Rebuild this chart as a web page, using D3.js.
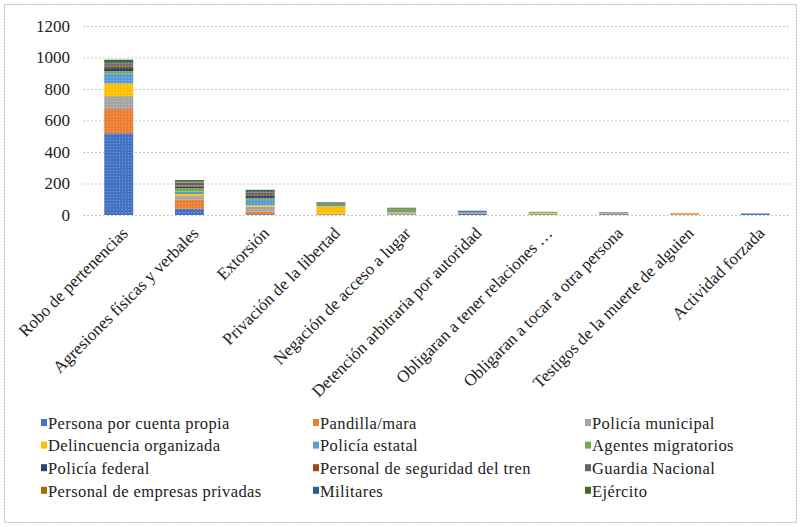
<!DOCTYPE html>
<html>
<head>
<meta charset="utf-8">
<script src="https://cdn.jsdelivr.net/npm/d3@7"></script>
</head>
<body style="margin:0">
<script>
var categorias = ["Robo de pertenencias", "Agresiones físicas y verbales", "Extorsión",
    "Privación de la libertad", "Negación de acceso a lugar", "Detención arbitraria por autoridad",
    "Obligaran a tener relaciones …", "Obligaran a tocar a otra persona",
    "Testigos de la muerte de alguien", "Actividad forzada"];

var series = ["Persona por cuenta propia", "Pandilla/mara", "Policía municipal",
    "Delincuencia organizada", "Policía estatal", "Agentes migratorios",
    "Policía federal", "Personal de seguridad del tren", "Guardia Nacional",
    "Personal de empresas privadas", "Militares", "Ejército"];

var persona      = [519, 40,  5,  3,  3, 8, 4, 5, 2, 7];
var pandilla     = [154, 58, 18,  5,  5, 2, 5, 4, 8, 0];
var municipal    = [82,  22, 30,  0,  5, 2, 2, 2, 1, 2];
var delincuencia = [80,  13,  8, 46,  2, 0, 2, 0, 3, 0];
var estatal      = [63,  15, 35,  3,  3, 3, 0, 3, 0, 3];
var migratorios  = [15,  22, 10, 10, 18, 2, 5, 3, 0, 0];
var federal      = [20,  10, 15,  5,  2, 6, 0, 2, 0, 0];
var tren         = [10,   8,  5,  0,  1, 0, 0, 0, 0, 0];
var guardia      = [15,  18, 15,  6,  4, 0, 0, 0, 0, 0];
var empresas     = [5,    4,  3,  0,  1, 0, 0, 0, 0, 0];
var militares    = [8,    4,  8,  2,  0, 4, 0, 0, 0, 0];
var ejercito     = [15,   8,  8,  2,  2, 0, 2, 0, 0, 0];

var valores = [persona, pandilla, municipal, delincuencia, estatal, migratorios,
    federal, tren, guardia, empresas, militares, ejercito];

var colores = ["#4472C4", "#ED7D31", "#A5A5A5", "#FFC000", "#5B9BD5", "#70AD47",
    "#264478", "#9E480E", "#636363", "#997300", "#255E91", "#43682B"];

var yTicks = [0, 200, 400, 600, 800, 1000, 1200];

var fuente = "Liberation Serif";

var W = 801, H = 527;
var m = {top: 26, left: 83, right: 10, bottom: 312};
var w = W - m.left - m.right, h = H - m.top - m.bottom;

var svg = d3.select("body").append("svg")
    .attr("width", W)
    .attr("height", H)
    .style("font-family", fuente);

// dotted texture like the original picture
var pat = svg.append("defs").append("pattern")
    .attr("id", "puntos")
    .attr("width", 3).attr("height", 3)
    .attr("patternUnits", "userSpaceOnUse");
pat.append("rect").attr("width", 1).attr("height", 1)
    .attr("fill", "#fff").attr("opacity", 0.3);

// outer border
svg.append("rect")
    .attr("x", 4.5).attr("y", 4.5)
    .attr("width", W - 9).attr("height", H - 9)
    .attr("fill", "none")
    .attr("stroke", "#b4b4b4")
    .attr("stroke-dasharray", "2,1");

var g = svg.append("g")
    .attr("transform", "translate(" + m.left + "," + m.top + ")");

var x = d3.scaleBand()
    .domain(categorias)
    .range([0, w])
    .paddingInner(0.59)
    .paddingOuter(0.3);

var y = d3.scaleLinear()
    .domain([0, 1200])
    .range([h, 0]);

// gridlines
g.selectAll(".grid")
    .data(yTicks)
    .enter().append("line")
    .attr("class", "grid")
    .attr("x1", 0).attr("x2", w)
    .attr("y1", function(d) { return y(d) + 0.5; })
    .attr("y2", function(d) { return y(d) + 0.5; })
    .attr("stroke", "#c8c8c8")
    .attr("stroke-dasharray", "2,2");

// y axis labels
var ya = g.append("g").call(d3.axisLeft(y)
    .tickValues(yTicks)
    .tickFormat(d3.format("d"))
    .tickSize(0)
    .tickPadding(13));
ya.attr("font-family", null).attr("font-size", null);
ya.select(".domain").remove();
ya.selectAll("text")
    .style("font-family", fuente)
    .style("font-size", "17px")
    .style("fill", "#222");

// stacked bars
var tabla = categorias.map(function(c, i) {
    var fila = {cat: c};
    series.forEach(function(s, j) { fila[s] = valores[j][i]; });
    return fila;
});
var stack = d3.stack().keys(series)(tabla);

var capas = g.selectAll(".serie")
    .data(stack)
    .enter().append("g")
    .attr("class", "serie")
    .attr("fill", function(d, i) { return colores[i]; });

capas.selectAll("rect")
    .data(function(d) { return d; })
    .enter().append("rect")
    .attr("x", function(d) { return x(d.data.cat); })
    .attr("width", x.bandwidth())
    .attr("y", function(d) { return y(d[1]); })
    .attr("height", function(d) { return y(d[0]) - y(d[1]); });

capas.selectAll(".tex")
    .data(function(d) { return d; })
    .enter().append("rect")
    .attr("class", "tex")
    .attr("x", function(d) { return x(d.data.cat); })
    .attr("width", x.bandwidth())
    .attr("y", function(d) { return y(d[1]); })
    .attr("height", function(d) { return y(d[0]) - y(d[1]); })
    .attr("fill", "url(#puntos)");

// category labels
g.selectAll(".cat")
    .data(categorias)
    .enter().append("text")
    .attr("class", "cat")
    .attr("transform", function(d) {
        return "translate(" + (x(d) + x.bandwidth() / 2 + 6) + "," + (h + 15) + ") rotate(-45)";
    })
    .attr("text-anchor", "end")
    .attr("dy", "0.35em")
    .style("font-family", fuente)
    .style("font-size", "17px")
    .style("fill", "#222")
    .text(function(d) { return d; });

// legend
var item = svg.append("g").attr("transform", "translate(41,423)")
    .selectAll(".item")
    .data(series)
    .enter().append("g")
    .attr("class", "item")
    .attr("transform", function(d, i) {
        return "translate(" + ((i % 3) * 272) + "," + (Math.floor(i / 3) * 22.6) + ")";
    });
item.append("rect")
    .attr("y", -4)
    .attr("width", 6).attr("height", 7)
    .attr("fill", function(d, i) { return colores[i]; });
item.append("text")
    .attr("x", 7)
    .attr("dy", "0.35em")
    .style("font-family", fuente)
    .style("font-size", "16.5px")
    .style("letter-spacing", "0.4px")
    .style("fill", "#222")
    .text(function(d) { return d; });
</script>
</body>
</html>
